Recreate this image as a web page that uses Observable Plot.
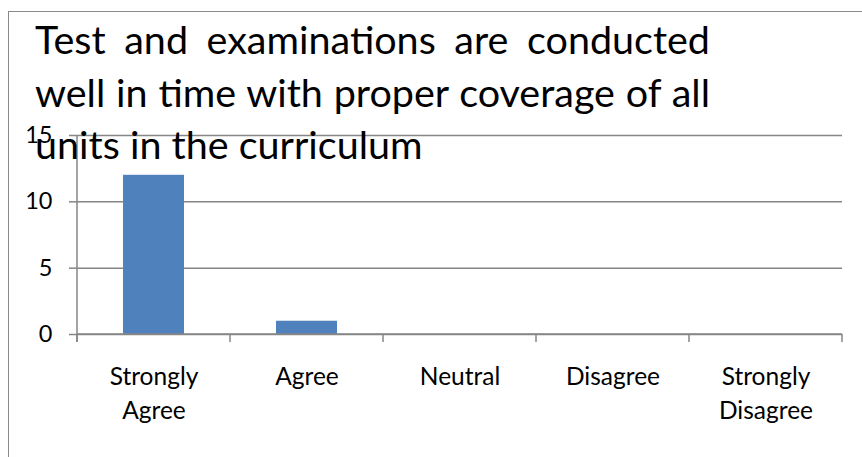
<!DOCTYPE html>
<html>
<head>
<meta charset="utf-8">
<script src="https://cdn.jsdelivr.net/npm/d3@7"></script>
<script src="https://cdn.jsdelivr.net/npm/@observablehq/plot@0.6"></script>
<style>
  html, body { margin: 0; padding: 0; background: #fff; }
  #wrap { position: relative; width: 862px; height: 457px; overflow: hidden; font-family: Lato, sans-serif; }
  #border { position: absolute; left: 8px; top: 11px; right: -5px; bottom: -5px; border-left: 1.5px solid #8a8a8a; border-top: 1.5px solid #8a8a8a; pointer-events: none; }
  #title { position: absolute; left: 35px; top: 13px; width: 675px; font-size: 39.5px; line-height: 52.5px; color: #000; }
  #title .j { text-align: justify; text-align-last: justify; white-space: nowrap; }
  #title .l { text-align: left; white-space: nowrap; }
  #chart { position: absolute; left: 0; top: 0; }
</style>
</head>
<body>
<div id="wrap">
  <div id="chart"></div>
  <div id="border"></div>
  <div id="title"></div>
</div>
<script>
const titleLines = ["Test and examinations are conducted", "well in time with proper coverage of all", "units in the curriculum"];
const categories = ["Strongly Agree", "Agree", "Neutral", "Disagree", "Strongly Disagree"];
const categoryLabels = ["Strongly\nAgree", "Agree", "Neutral", "Disagree", "Strongly\nDisagree"];
const values = [12, 1, 0, 0, 0];
const yTicks = [0, 5, 10, 15];

const data = categories.map((c, i) => ({category: c, label: categoryLabels[i], value: values[i]}));

const title = document.getElementById("title");
titleLines.forEach((t, i) => {
  const d = document.createElement("div");
  d.className = i < titleLines.length - 1 ? "j" : "l";
  d.textContent = t;
  title.appendChild(d);
});

const axisColor = "#868686";

// axis lines and category boundary ticks, positioned with the plot's scales
function axesLines(index, scales, values, dimensions) {
  const x = scales.x, y = scales.y;
  const step = x(categories[1]) - x(categories[0]);
  const half = (step - (x.bandwidth ? x.bandwidth() : 0)) / 2;
  const left = x(categories[0]) - half;
  const g = d3.create("svg:g").attr("stroke", axisColor).attr("stroke-width", 1.5).attr("fill", "none");
  const y0 = y(0), yTop = y(d3.max(yTicks));
  g.append("line").attr("x1", left).attr("x2", left).attr("y1", yTop).attr("y2", y0 + 8);
  const right = left + step * categories.length;
  g.append("line").attr("x1", left).attr("x2", right).attr("y1", y0).attr("y2", y0);
  for (let i = 0; i <= categories.length; i++) {
    const xx = left + step * i;
    g.append("line").attr("x1", xx).attr("x2", xx).attr("y1", y0).attr("y2", y0 + 8);
  }
  return g.node();
}

const chart = Plot.plot({
  width: 862,
  height: 457,
  marginLeft: 77,
  marginRight: 20,
  marginTop: 135,
  marginBottom: 123,
  style: {fontFamily: "Lato, sans-serif", fontSize: "22px", color: "#000", background: "transparent", overflow: "visible"},
  x: {domain: categories, paddingInner: 0.6, paddingOuter: 0.3, axis: null},
  y: {domain: [0, 15], axis: null},
  marks: [
    Plot.gridY(yTicks, {stroke: axisColor, strokeOpacity: 1, strokeWidth: 1.5}),
    Plot.barY(data, {x: "category", y: "value", fill: "#4F81BD"}),
    Plot.axisY({ticks: yTicks, tickSize: 8, tickPadding: 17, stroke: axisColor, strokeWidth: 1.5, fill: "#000", fontSize: 23.5, label: null}),
    axesLines,
    Plot.text(data, {x: "category", y: 0, text: "label", dy: 26, lineAnchor: "top", lineHeight: 1.4, fontSize: 24.5, fill: "#000"})
  ]
});
document.getElementById("chart").appendChild(chart);
</script>
</body>
</html>
